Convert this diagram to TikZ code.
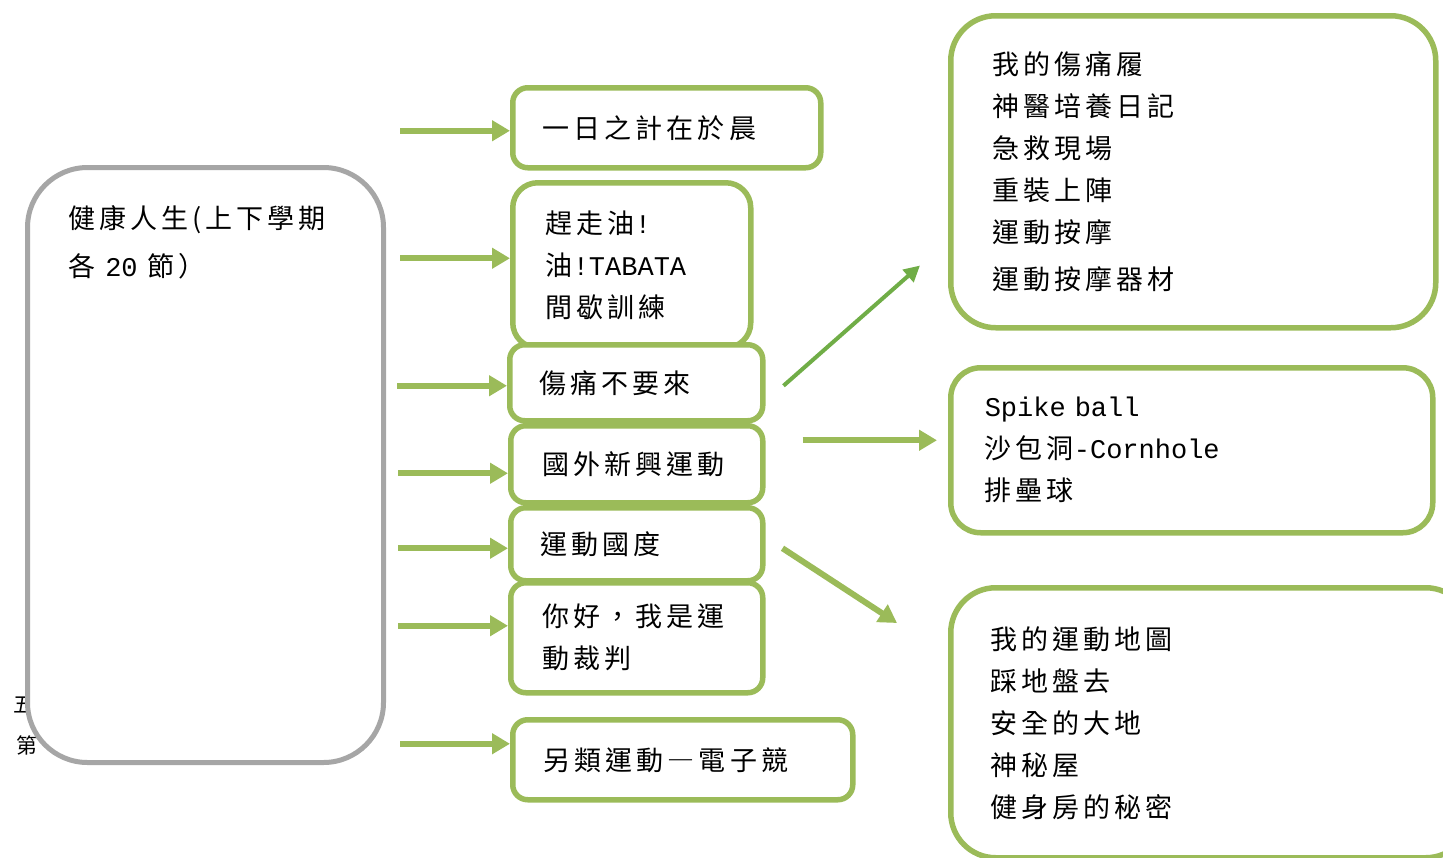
\documentclass[tikz,border=0pt]{standalone}
\usepackage{fontspec}
\usepackage{xcolor}
\usetikzlibrary{arrows.meta,positioning}
\newfontfamily\cjk[LetterSpace=15]{Noto Sans CJK TC}
\newfontfamily\lat{Liberation Mono}
\definecolor{boxgreen}{HTML}{9BBB59}
\definecolor{darkgreen}{HTML}{70AD47}
\definecolor{boxgray}{HTML}{A6A6A6}

\begin{document}
\begin{tikzpicture}
      [x=1pt, y=-1pt,
      every node/.style={font=\cjk\fontsize{27pt}{42pt}\selectfont},
      green box/.style={draw=boxgreen, line width=5.5pt, fill=white, rounded corners=15pt, anchor=north west, align=left},
      gray box/.style={draw=boxgray, line width=5pt, fill=white, rounded corners=60pt, anchor=north west},
      arrow/.style={draw=boxgreen, line width=6pt, -{Triangle[length=18pt,width=20pt]}},
      slim arrow/.style={draw=darkgreen, line width=4pt, -{Triangle[length=16pt,width=16pt]}}
      ]
    \useasboundingbox (0,0) rectangle (1443,857);

    % text mostly hidden behind the left box
    \node[anchor=west, font=\cjk\fontsize{21pt}{21pt}\selectfont] (side1) at (10,705) {五};
    \node[anchor=west, font=\cjk\fontsize{21pt}{21pt}\selectfont] (side2) at (13,745) {第};

    \node[gray box, minimum width=356pt, minimum height=595pt] (life) at (25,165) {};
    \node[below right=40pt and 43pt of life.north west, inner sep=0pt, align=left,
          font=\cjk\fontsize{27pt}{48pt}\selectfont] (lifetext) {健康人生(上下學期\\各 {\lat 20} 節）};

    % middle column
    \node[green box, inner xsep=30pt, text width=248pt, minimum height=80pt] (plan) at (510,85) {一日之計在於晨};
    \node[green box, rounded corners=25pt, inner xsep=33pt, text width=172pt, minimum height=165pt] (tabata) at (510,180)
        {趕走油{\lat !}\\油{\lat !TABATA}\\間歇訓練};
    \node[green box, inner xsep=30pt, text width=193pt, minimum height=76pt] (injury) at (507,342) {傷痛不要來};
    \node[green box, inner xsep=32pt, text width=188pt, minimum height=77pt] (newsport) at (508,423) {國外新興運動};
    \node[green box, inner xsep=30pt, text width=192pt, minimum height=73pt] (country) at (508,505) {運動國度};
    \node[green box, inner xsep=32pt, text width=188pt, minimum height=110pt] (referee) at (508,580) {你好，我是運\\動裁判};
    \node[green box, inner xsep=31pt, text width=278pt, minimum height=80pt] (esport) at (510,717) {另類運動―電子競};

    % right column
    \node[green box, rounded corners=45pt, inner xsep=42pt, text width=401pt, minimum height=312pt] (injurylist) at (948,13)
        {我的傷痛履\\神醫培養日記\\急救現場\\重裝上陣\\運動按摩\\[5pt]運動按摩器材};
    \node[green box, rounded corners=30pt, inner xsep=34pt, text width=414pt, minimum height=165pt] (newlist) at (948,365)
        {{\lat Spike ball}\\沙包洞{\lat -Cornhole}\\排壘球};
    \node[green box, rounded corners=45pt, inner xsep=40pt, text width=440pt, minimum height=270pt] (countrylist) at (948,585)
        {我的運動地圖\\踩地盤去\\安全的大地\\神秘屋\\健身房的秘密};

    \foreach \b/\dy in {plan/-3, tabata/7, injury/-3, newsport/-9, country/-4, referee/12, esport/16}
      \draw[arrow] ([shift={(-110pt,\dy pt)}]\b.west) -- ([yshift=\dy pt]\b.west);

    \draw[slim arrow] ([shift={(18pt,-3pt)}]injury.east) -- ([shift={(-28pt,65pt)}]injurylist.south west);
    \draw[arrow] ([shift={(37pt,24pt)}]newsport.east) -- ([shift={(-11pt,10pt)}]newlist.west);
    \draw[arrow] ([shift={(17pt,-4pt)}]country.east) -- ([shift={(-51pt,-38pt)}]countrylist.north west);
\end{tikzpicture}
\end{document}
